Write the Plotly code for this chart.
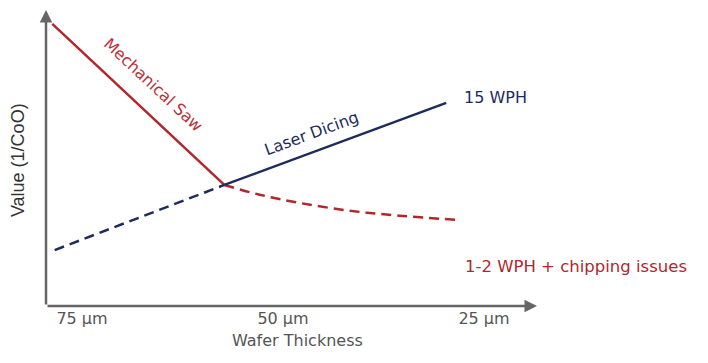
import plotly.graph_objects as go

# Data (x = wafer thickness in µm, y = relative value 1/CoO)
saw_solid_x = [78.7, 57.3]
saw_solid_y = [95.3, 40.9]
saw_dash_x = [57.3, 52.9, 47.9, 41.7, 35.5, 28.4]
saw_dash_y = [40.9, 37.6, 34.8, 32.2, 30.5, 29.1]
laser_dash_x = [78.4, 57.3]
laser_dash_y = [18.9, 40.9]
laser_solid_x = [57.3, 29.7]
laser_solid_y = [40.9, 68.6]
tick_vals = [75, 50, 25]
tick_text = ["75 µm", "50 µm", "25 µm"]

RED = "#b3262c"
NAVY = "#1e2b5c"
GRAY = "#555555"
FONT = "DejaVu Sans"

fig = go.Figure()
fig.add_trace(go.Scatter(x=saw_solid_x, y=saw_solid_y, mode="lines",
                         line=dict(color=RED, width=2.5)))
fig.add_trace(go.Scatter(x=saw_dash_x, y=saw_dash_y, mode="lines",
                         line=dict(color=RED, width=2.5, dash="10px,6px", shape="spline")))
fig.add_trace(go.Scatter(x=laser_dash_x, y=laser_dash_y, mode="lines",
                         line=dict(color=NAVY, width=2.5, dash="10px,6px")))
fig.add_trace(go.Scatter(x=laser_solid_x, y=laser_solid_y, mode="lines",
                         line=dict(color=NAVY, width=2.5)))

ann = []
# axis arrows
ann.append(dict(xref="x domain", yref="y domain", axref="x domain", ayref="y domain",
                x=0, y=1, ax=0, ay=0, showarrow=True, arrowhead=2, arrowsize=1,
                arrowwidth=2.5, arrowcolor="#666666", text=""))
ann.append(dict(xref="x domain", yref="y domain", axref="x domain", ayref="y domain",
                x=1, y=0, ax=0, ay=0, showarrow=True, arrowhead=2, arrowsize=1,
                arrowwidth=2.5, arrowcolor="#666666", text=""))
ann.append(dict(x=66.2, y=74.7, text="Mechanical Saw", textangle=43, showarrow=False,
                font=dict(family=FONT, size=16, color="#bb3034")))
ann.append(dict(x=46.5, y=58.4, text="Laser Dicing", textangle=-20, showarrow=False,
                font=dict(family=FONT, size=16, color=NAVY)))
ann.append(dict(x=27.74, y=70.3, text="15 WPH", xanchor="left", showarrow=False,
                font=dict(family=FONT, size=16, color=NAVY)))
ann.append(dict(x=27.61, y=13.2, text="1-2 WPH + chipping issues", xanchor="left", showarrow=False,
                font=dict(family=FONT, size=16.5, color=RED)))
ann.append(dict(xref="paper", yref="paper", x=0.513, y=-0.118, text="Wafer Thickness",
                showarrow=False, yanchor="middle",
                font=dict(family=FONT, size=16, color=GRAY)))
ann.append(dict(xref="paper", yref="paper", x=-0.057, y=0.493, text="Value (1/CoO)",
                textangle=-90, showarrow=False, xanchor="center", yanchor="middle",
                font=dict(family="Liberation Sans", size=18, color="#333333")))

fig.update_layout(
    width=708, height=363,
    margin=dict(l=46, r=171, t=10, b=57),
    paper_bgcolor="white", plot_bgcolor="white",
    showlegend=False,
    annotations=ann,
    xaxis=dict(range=[79.48, 18.41], tickvals=tick_vals, ticktext=tick_text,
               showgrid=False, zeroline=False, showline=False, ticks="",
               ticklabelstandoff=1,
               tickfont=dict(family=FONT, size=16, color=GRAY)),
    yaxis=dict(range=[0, 100], showgrid=False, zeroline=False, showline=False,
               showticklabels=False, ticks=""),
)

fig.write_html("out.html", config={"displayModeBar": False},
               post_script="document.body.style.margin='0';")
